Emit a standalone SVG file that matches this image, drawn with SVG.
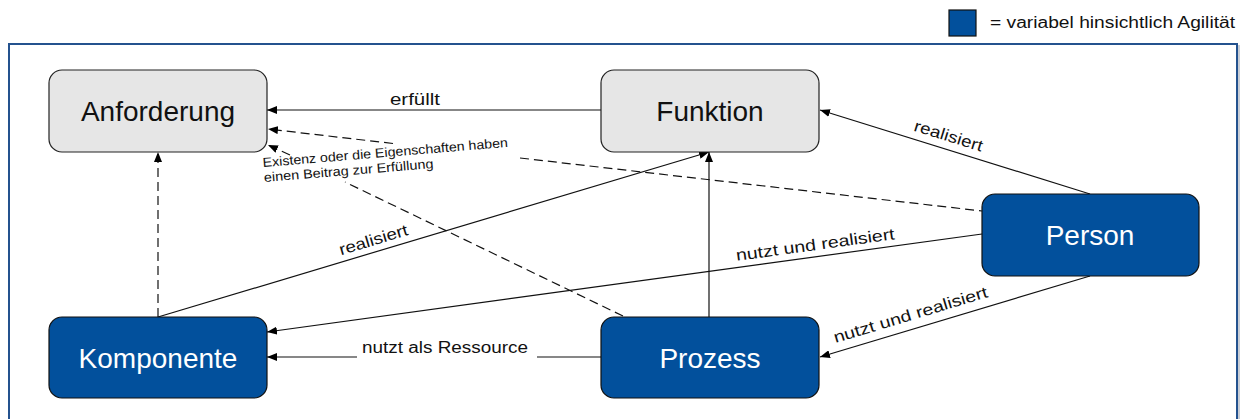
<svg xmlns="http://www.w3.org/2000/svg" width="1242" height="419" viewBox="0 0 1242 419">
  <style>
    .frame { fill: #ffffff; stroke: #24528e; stroke-width: 2; }
    .frame-shadow { fill: none; stroke: #c9ced6; stroke-width: 2; }
    .node-grey { fill: #e6e6e6; stroke: #222222; stroke-width: 1.2; }
    .node-blue { fill: #02509c; stroke: #111111; stroke-width: 1.2; }
    .label-dark { font-family: "Liberation Sans", Arial, sans-serif; font-size: 28px; fill: #111111; text-anchor: middle; }
    .label-light { font-family: "Liberation Sans", Arial, sans-serif; font-size: 28px; fill: #ffffff; text-anchor: middle; }
    .edge { fill: none; stroke: #111111; stroke-width: 1.2; }
    .edge-dashed { fill: none; stroke: #111111; stroke-width: 1.2; stroke-dasharray: 9 5; }
    .edge-text { font-family: "Liberation Sans", Arial, sans-serif; font-size: 16px; fill: #111111; text-anchor: middle; }
    .note-text { font-family: "Liberation Sans", Arial, sans-serif; font-size: 13px; fill: #111111; }
    .legend-text { font-family: "Liberation Sans", Arial, sans-serif; font-size: 16px; fill: #111111; }
  </style>
  <defs>
    <marker id="arrow" viewBox="0 0 10 8" refX="10" refY="4" markerWidth="10" markerHeight="8" markerUnits="userSpaceOnUse" orient="auto">
      <path d="M0,0 L10,4 L0,8 z" fill="#000000"/>
    </marker>
  </defs>

  <!-- legend -->
  <g id="legend">
    <rect x="949" y="10" width="27" height="26" class="node-blue" stroke-width="1"/>
    <text x="990" y="28" class="legend-text" textLength="245" lengthAdjust="spacingAndGlyphs">= variabel hinsichtlich Agilität</text>
  </g>

  <!-- surrounding frame -->
  <g id="frame">
    <rect x="11" y="46" width="1228" height="400" class="frame-shadow"/>
    <rect x="9" y="44" width="1228" height="400" class="frame"/>
  </g>

  <!-- connectors -->
  <g id="connectors">
    <!-- Funktion -> Anforderung: erfüllt -->
    <line x1="601" y1="110" x2="267" y2="110" class="edge" marker-end="url(#arrow)"/>
    <text x="415" y="105" class="edge-text" textLength="50" lengthAdjust="spacingAndGlyphs">erfüllt</text>

    <!-- Person -> Anforderung (dashed, interrupted by note) -->
    <line x1="520" y1="158" x2="982" y2="211" class="edge-dashed"/>
    <line x1="393" y1="143.5" x2="268" y2="129" class="edge-dashed" marker-end="url(#arrow)"/>

    <!-- Prozess -> Anforderung (dashed, interrupted by note) -->
    <line x1="623" y1="316" x2="345" y2="182" class="edge-dashed"/>
    <line x1="290" y1="155" x2="268" y2="145" class="edge-dashed" marker-end="url(#arrow)"/>

    <!-- note on the dashed connectors -->
    <g transform="rotate(-4.7 263 167)">
      <text x="263" y="167" class="note-text" textLength="246" lengthAdjust="spacingAndGlyphs">Existenz oder die Eigenschaften haben</text>
      <text x="263" y="182" class="note-text" textLength="170" lengthAdjust="spacingAndGlyphs">einen Beitrag zur Erfüllung</text>
    </g>

    <!-- Komponente -> Anforderung (dashed) -->
    <line x1="158" y1="317" x2="158" y2="152" class="edge-dashed" marker-end="url(#arrow)"/>

    <!-- Komponente -> Funktion: realisiert -->
    <line x1="158" y1="317" x2="709" y2="152" class="edge" marker-end="url(#arrow)"/>
    <text x="375" y="245" class="edge-text" transform="rotate(-16.7 375 245)" textLength="71" lengthAdjust="spacingAndGlyphs">realisiert</text>

    <!-- Prozess -> Funktion -->
    <line x1="709" y1="317" x2="709" y2="152" class="edge" marker-end="url(#arrow)"/>

    <!-- Person -> Funktion: realisiert -->
    <line x1="1090" y1="194" x2="820" y2="110" class="edge" marker-end="url(#arrow)"/>
    <text x="947" y="141" class="edge-text" transform="rotate(17.3 947 141)" textLength="71" lengthAdjust="spacingAndGlyphs">realisiert</text>

    <!-- Person -> Komponente: nutzt und realisiert -->
    <line x1="982" y1="234" x2="267" y2="332" class="edge" marker-end="url(#arrow)"/>
    <text x="816" y="250" class="edge-text" transform="rotate(-7.8 816 250)" textLength="160" lengthAdjust="spacingAndGlyphs">nutzt und realisiert</text>

    <!-- Prozess -> Komponente: nutzt als Ressource -->
    <line x1="601" y1="357" x2="537" y2="357" class="edge"/>
    <line x1="357" y1="357" x2="267" y2="357" class="edge" marker-end="url(#arrow)"/>
    <text x="445" y="353" class="edge-text" textLength="166" lengthAdjust="spacingAndGlyphs">nutzt als Ressource</text>

    <!-- Person -> Prozess: nutzt und realisiert -->
    <line x1="1090" y1="276" x2="820" y2="357" class="edge" marker-end="url(#arrow)"/>
    <text x="912" y="320" class="edge-text" transform="rotate(-16.8 912 320)" textLength="160" lengthAdjust="spacingAndGlyphs">nutzt und realisiert</text>
  </g>

  <!-- nodes -->
  <g id="node-anforderung">
    <rect x="49" y="70" width="218" height="82" rx="13" class="node-grey"/>
    <text x="158" y="121" class="label-dark">Anforderung</text>
  </g>
  <g id="node-funktion">
    <rect x="601" y="70" width="218" height="82" rx="13" class="node-grey"/>
    <text x="710" y="121" class="label-dark">Funktion</text>
  </g>
  <g id="node-person">
    <rect x="982" y="194" width="217" height="82" rx="13" class="node-blue"/>
    <text x="1090" y="245" class="label-light">Person</text>
  </g>
  <g id="node-komponente">
    <rect x="49" y="317" width="218" height="81" rx="13" class="node-blue"/>
    <text x="158" y="368" class="label-light">Komponente</text>
  </g>
  <g id="node-prozess">
    <rect x="601" y="317" width="218" height="81" rx="13" class="node-blue"/>
    <text x="710" y="368" class="label-light">Prozess</text>
  </g>
</svg>
